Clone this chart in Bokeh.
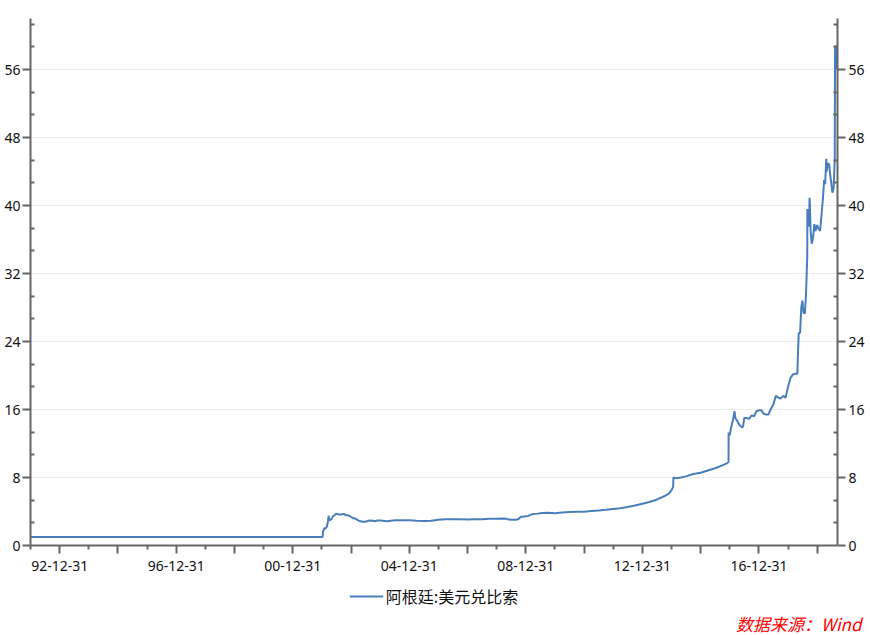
import pandas as pd
from bokeh.plotting import figure
from bokeh.layouts import column
from bokeh.models import (FixedTicker, CustomJSTickFormatter, LinearAxis, Range1d,
                          Legend, LegendItem, Title, ColumnDataSource)
from bokeh.embed import file_html
from bokeh.resources import INLINE

# ---- data: Argentine peso per US dollar ----
dates = [
    "1991-12-31", "2001-12-31", "2002-01-10", "2002-01-14", "2002-01-31", "2002-02-15",
    "2002-02-28", "2002-03-08", "2002-03-20", "2002-03-25", "2002-04-05", "2002-04-30",
    "2002-05-15", "2002-06-10", "2002-06-28", "2002-07-31", "2002-08-30", "2002-09-30",
    "2002-10-31", "2002-11-29", "2002-12-31",
    "2003-01-31", "2003-02-28", "2003-03-31", "2003-04-30", "2003-05-30", "2003-06-30",
    "2003-07-31", "2003-08-29", "2003-09-30", "2003-10-31", "2003-11-28", "2003-12-31",
    "2004-03-31", "2004-06-30", "2004-09-30", "2004-12-31",
    "2005-03-31", "2005-06-30", "2005-09-30", "2005-12-30",
    "2006-03-31", "2006-06-30", "2006-09-29", "2006-12-29",
    "2007-03-30", "2007-06-29", "2007-09-28", "2007-12-31",
    "2008-03-31", "2008-04-30", "2008-05-30", "2008-06-30", "2008-07-31", "2008-08-29",
    "2008-09-30", "2008-10-31", "2008-11-28", "2008-12-31",
    "2009-01-30", "2009-03-31", "2009-05-29", "2009-07-31", "2009-09-30", "2009-12-31",
    "2010-03-31", "2010-06-30", "2010-09-30", "2010-12-31",
    "2011-03-31", "2011-06-30", "2011-09-30", "2011-12-30",
    "2012-03-30", "2012-06-29", "2012-09-28", "2012-12-31",
    "2013-03-28", "2013-06-28", "2013-09-30", "2013-11-29", "2013-12-31",
    "2014-01-21", "2014-01-23", "2014-01-24", "2014-02-28", "2014-04-30", "2014-06-30",
    "2014-09-30", "2014-12-31",
    "2015-03-31", "2015-06-30", "2015-09-30", "2015-11-30", "2015-12-16", "2015-12-17",
    "2015-12-22", "2015-12-31",
    "2016-01-15", "2016-02-10", "2016-02-29", "2016-03-10", "2016-03-31", "2016-04-29",
    "2016-05-31", "2016-06-15", "2016-06-30", "2016-07-29", "2016-08-31", "2016-09-30",
    "2016-10-31", "2016-11-30", "2016-12-30",
    "2017-01-31", "2017-02-28", "2017-03-31", "2017-04-28", "2017-05-31", "2017-06-30",
    "2017-07-31", "2017-08-31", "2017-09-29", "2017-10-31", "2017-11-30", "2017-12-29",
    "2018-01-31", "2018-02-28", "2018-03-29", "2018-04-27", "2018-05-04", "2018-05-14",
    "2018-05-31", "2018-06-15", "2018-06-29", "2018-07-13", "2018-07-31", "2018-08-15",
    "2018-08-29", "2018-08-30", "2018-08-31", "2018-09-04", "2018-09-12", "2018-09-20",
    "2018-09-27", "2018-10-01", "2018-10-10", "2018-10-24", "2018-11-09", "2018-11-26",
    "2018-12-10", "2018-12-31",
    "2019-01-15", "2019-02-05", "2019-02-20", "2019-03-01", "2019-03-15", "2019-03-28",
    "2019-04-10", "2019-04-24", "2019-04-30", "2019-05-15", "2019-05-31", "2019-06-14",
    "2019-06-28", "2019-07-10", "2019-07-25", "2019-08-09", "2019-08-12", "2019-08-13",
    "2019-08-14", "2019-08-16", "2019-08-22", "2019-08-28", "2019-09-02", "2019-09-12",
]
rates = [
    1.00, 1.00, 1.00, 1.60, 2.05, 2.00,
    2.15, 2.40, 3.00, 3.50, 2.95, 3.10,
    3.40, 3.60, 3.75, 3.65, 3.65, 3.72,
    3.55, 3.55, 3.37,
    3.20, 3.15, 2.95, 2.85, 2.80, 2.80,
    2.90, 2.95, 2.90, 2.85, 2.95, 2.93,
    2.86, 2.96, 2.98, 2.97,
    2.92, 2.89, 2.91, 3.03,
    3.08, 3.08, 3.10, 3.06,
    3.10, 3.09, 3.15, 3.15,
    3.17, 3.16, 3.05, 3.02, 3.02, 3.04,
    3.12, 3.38, 3.39, 3.45,
    3.48, 3.72, 3.75, 3.82, 3.84, 3.80,
    3.87, 3.93, 3.96, 3.98,
    4.05, 4.11, 4.20, 4.30,
    4.38, 4.52, 4.70, 4.92,
    5.12, 5.39, 5.79, 6.10, 6.52,
    6.90, 7.80, 8.00, 7.90, 8.00, 8.13,
    8.42, 8.55,
    8.82, 9.09, 9.42, 9.70, 9.83, 13.30,
    13.00, 13.00,
    13.80, 14.80, 15.80, 15.00, 14.70, 14.20,
    13.90, 14.00, 15.00, 15.00, 14.90, 15.30,
    15.20, 15.80, 15.90,
    15.90, 15.50, 15.40, 15.40, 16.10, 16.60,
    17.60, 17.40, 17.30, 17.60, 17.40, 18.60,
    19.70, 20.10, 20.20, 20.20, 22.50, 25.00,
    25.00, 28.00, 28.80, 27.40, 27.30, 30.00,
    34.00, 39.60, 37.50, 38.50, 39.00, 37.50,
    40.90, 40.00, 37.00, 35.50, 36.20, 37.80,
    37.00, 37.70,
    37.30, 37.00, 38.50, 39.50, 41.00, 43.00,
    42.50, 45.50, 44.00, 45.00, 44.80, 43.50,
    42.50, 41.50, 42.00, 45.50, 57.50, 58.50,
    58.80, 56.00, 56.50, 58.80, 56.00, 57.00,
]
series_name = "阿根廷:美元兑比索"
source_text = "数据来源：Wind"
y_major = [0, 8, 16, 24, 32, 40, 48, 56]
y_max = 62
x_start, x_end = "1991-12-31", "2019-09-12"

LINE_COLOR = "#4a7ebb"
AX = "#666666"
W = 870

def ms(s):
    return pd.Timestamp(s).value // 10**6

src = ColumnDataSource(dict(x=pd.to_datetime(dates), y=rates))

# ---- main chart ----
p = figure(width=W, height=580, x_axis_type="datetime",
           output_backend="svg", toolbar_location=None,
           x_range=Range1d(ms(x_start), ms(x_end)), y_range=Range1d(0, y_max),
           min_border_left=30, min_border_right=33, min_border_top=18,
           min_border_bottom=35)
p.outline_line_color = None
p.background_fill_color = "white"
p.border_fill_color = "white"

r = p.line("x", "y", source=src, line_color=LINE_COLOR, line_width=2)

def style_axis(ax):
    ax.axis_line_color = AX
    ax.axis_line_width = 2
    ax.major_tick_line_color = AX
    ax.major_tick_line_width = 2
    ax.minor_tick_line_color = AX
    ax.minor_tick_line_width = 2
    ax.major_label_text_font = "Noto Sans"
    ax.major_label_text_font_size = "14px"
    ax.major_label_text_color = "#111111"

# x axis: long ticks at even year-ends, short at odd, labels every 4 years
years_major = list(range(1992, 2019, 2))
years_minor = list(range(1991, 2020, 2))
xt = FixedTicker(ticks=[ms(f"{y}-12-31") for y in years_major],
                 minor_ticks=[ms(f"{y}-12-31") for y in years_minor])
xa = p.xaxis[0]
xa.ticker = xt
xa.formatter = CustomJSTickFormatter(code="""
const d = new Date(tick);
const y = d.getUTCFullYear();
if (y % 4 != 0) { return ""; }
return String(y % 100).padStart(2, "0") + "-12-31";
""")
style_axis(xa)
xa.major_tick_in = 0
xa.major_tick_out = 8
xa.minor_tick_in = 0
xa.minor_tick_out = 4
xa.major_label_standoff = 7

# y axes (left and right)
y_minor = [k * 8 / 3 for k in range(1, 24) if k % 3 != 0]
yt = FixedTicker(ticks=y_major, minor_ticks=y_minor)
ya = p.yaxis[0]
ya.ticker = yt
style_axis(ya)
ya.major_tick_in = 0
ya.major_tick_out = 8
ya.minor_tick_in = 4
ya.minor_tick_out = 0
ya.major_label_standoff = 2

ra = LinearAxis(ticker=yt)
style_axis(ra)
ra.major_tick_in = 0
ra.major_tick_out = 8
ra.minor_tick_in = 4
ra.minor_tick_out = 0
ra.major_label_standoff = 3
p.add_layout(ra, "right")

p.xgrid.grid_line_color = None
p.ygrid.ticker = yt
p.ygrid.grid_line_color = "#ebebeb"
p.ygrid.grid_line_width = 1

# ---- footer strip: legend + source note ----
f = figure(width=W, height=55, output_backend="svg", toolbar_location=None,
           x_range=Range1d(0, 1), y_range=Range1d(0, 1),
           x_axis_location=None, y_axis_location=None,
           min_border_left=0, min_border_right=0, min_border_top=0,
           min_border_bottom=0)
f.grid.visible = False
f.outline_line_color = None
f.border_fill_color = "white"
f.background_fill_color = "white"
# legend sample: same style as the series, holds no visible point
sample = f.line(x=[float("nan")], y=[float("nan")], line_color=LINE_COLOR, line_width=2)

legend = Legend(items=[LegendItem(label=series_name, renderers=[sample])],
                location="top_center", orientation="horizontal",
                border_line_color=None, background_fill_alpha=0,
                label_text_font="Noto Sans CJK SC", label_text_font_size="16px",
                label_text_color="#111111",
                glyph_width=34, glyph_height=20, label_standoff=3,
                padding=4, margin=4)
f.add_layout(legend)

note = Title(text=source_text, align="right", offset=-24, standoff=0,
             text_color="#ff0000", text_font_style="italic",
             text_font="Noto Sans CJK SC", text_font_size="17px")
f.add_layout(note, "below")

layout = column(p, f, spacing=0)
open("out.html", "w").write(file_html(layout, INLINE))
